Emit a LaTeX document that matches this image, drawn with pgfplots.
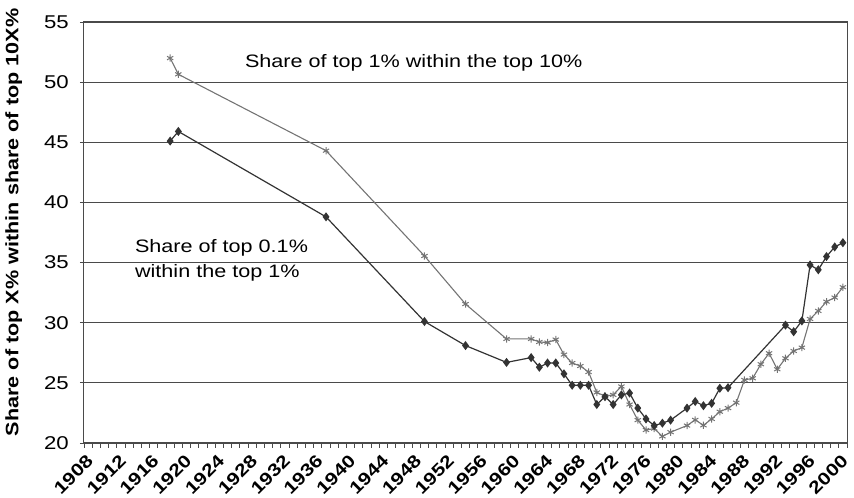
\documentclass[border=0pt]{standalone}
\usepackage{fontspec}
\setmainfont{Liberation Sans}[FakeStretch=1.2]
\usepackage{pgfplots}
\pgfplotsset{compat=1.18}
\definecolor{topone}{HTML}{333333}
\definecolor{topten}{HTML}{747474}
\definecolor{gridc}{HTML}{4A4A4A}

\begin{document}
\begin{tikzpicture}[x=1bp,y=1bp]
\useasboundingbox (-84,-55) rectangle (770,443);
\begin{axis}[
  at={(0,0)}, anchor=south west,
  scale only axis, width=763bp, height=421bp,
  xmin=1907.5, xmax=2000.5, ymin=20, ymax=55,
  ytick={20,25,...,55},
  xtick={1908,1912,...,2000},
  minor xtick={1907.5,1908.5,...,2000.5},
  tick pos=left,
  tick align=outside,
  major tick length=4bp, minor tick length=5bp,
  every tick/.style={gridc, line width=0.9bp},
  every major x tick/.append style={draw=none},
  ymajorgrids,
  major grid style={gridc, line width=0.9bp},
  axis line style={gridc, line width=1bp},
  /pgf/number format/assume math mode=true,
  yticklabel style={anchor=east, inner sep=0pt, xshift=-11bp,
    font=\fontsize{18.5bp}{20bp}\selectfont},
  xticklabel style={yshift=-11bp, xshift=2bp, rotate=45, anchor=east,
    inner sep=0pt, font=\bfseries\fontsize{17.5bp}{20bp}\selectfont,
    /pgf/number format/1000 sep={}},
  ylabel={Share of top X\% within share of top 10X\%},
  ylabel style={at={(axis description cs:-0.1035,0.524)}, anchor=north,
    inner sep=0pt, font=\bfseries\fontsize{18bp}{20bp}\selectfont},
  clip=false,
]
% share of top 1% within the top 10%
\addplot[topten, line width=1.1bp, mark=asterisk, mark size=3.6bp,
  mark options={solid, line width=1bp}] coordinates {
  (1918,52.0) (1919,50.65) (1937,44.3) (1949,35.55) (1954,31.55)
  (1959,28.65) (1962,28.65) (1963,28.4) (1964,28.35) (1965,28.6)
  (1966,27.35) (1967,26.65) (1968,26.4) (1969,25.9) (1970,24.2)
  (1971,23.9) (1972,24.0) (1973,24.7) (1974,23.2) (1975,21.9)
  (1976,21.08) (1977,21.2) (1978,20.55) (1979,20.9) (1981,21.45)
  (1982,21.92) (1983,21.47) (1984,22.0) (1985,22.6) (1986,22.9)
  (1987,23.35) (1988,25.24) (1989,25.38) (1990,26.55) (1991,27.46)
  (1992,26.13) (1993,27.04) (1994,27.65) (1995,27.93) (1996,30.31)
  (1997,30.98) (1998,31.75) (1999,32.09) (2000,32.95)
};
% share of top 0.1% within the top 1%
\addplot[topone, line width=1.2bp, mark=diamond*, mark size=3.6bp,
  mark options={solid, fill=topone}] coordinates {
  (1918,45.1) (1919,45.9) (1937,38.8) (1949,30.1) (1954,28.1)
  (1959,26.7) (1962,27.1) (1963,26.3) (1964,26.65) (1965,26.65)
  (1966,25.75) (1967,24.8) (1968,24.8) (1969,24.8) (1970,23.2)
  (1971,23.85) (1972,23.2) (1973,24.0) (1974,24.15) (1975,22.9)
  (1976,22.0) (1977,21.45) (1978,21.65) (1979,21.9) (1981,22.9)
  (1982,23.45) (1983,23.1) (1984,23.3) (1985,24.55) (1986,24.6)
  (1993,29.8) (1994,29.25) (1995,30.15) (1996,34.8) (1997,34.4)
  (1998,35.5) (1999,36.3) (2000,36.65)
};
\node[anchor=west, inner sep=0pt, font=\fontsize{18bp}{21bp}\selectfont]
  at (axis cs:1927.1,51.6) {Share of top 1\% within the top 10\%};
\node[anchor=north west, align=left, inner sep=0pt,
  font=\fontsize{18bp}{25bp}\selectfont]
  at (axis cs:1913.7,36.9) {Share of top 0.1\%\\within the top 1\%};
\end{axis}
\end{tikzpicture}
\end{document}
